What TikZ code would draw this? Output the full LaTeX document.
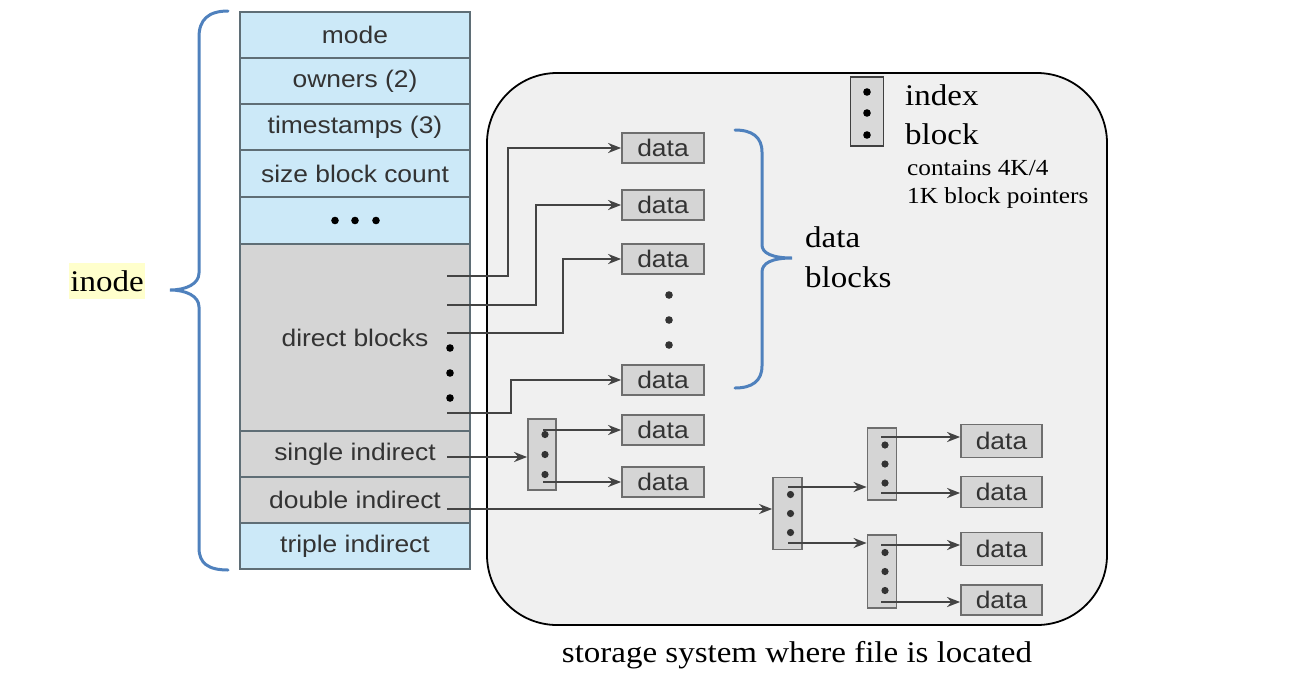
\documentclass[tikz,border=0pt]{standalone}
\usepackage{fontspec}
\setmainfont{Liberation Serif}[FakeStretch=1.1]
\newfontfamily\fsans{Liberation Sans}[FakeStretch=1.1]
\usetikzlibrary{arrows.meta}
\definecolor{rowblue}{HTML}{CCE9F8}
\definecolor{rowgray}{HTML}{D5D5D5}
\definecolor{rowline}{HTML}{5F6E76}
\definecolor{boxline}{HTML}{6E6E6E}
\definecolor{storefill}{HTML}{F0F0F0}
\definecolor{bracecol}{HTML}{4F81BD}
\definecolor{arrowcol}{HTML}{444444}
\definecolor{sanstext}{HTML}{333333}
\definecolor{hilite}{HTML}{FFFFCC}
\tikzset{
  x=1pt, y=-1pt,
  inoderow/.style={draw=rowline, line width=2pt, minimum width=230pt, inner sep=0pt,
     font=\fsans\fontsize{24}{28}\selectfont, text=sanstext},
  bluerow/.style={inoderow, fill=rowblue, minimum height=46pt},
  grayrow/.style={inoderow, fill=rowgray, minimum height=46pt},
  databox/.style={draw=boxline, fill=rowgray, line width=1.8pt, minimum width=82pt, minimum height=30pt,
     inner sep=0pt, font=\fsans\fontsize{24}{28}\selectfont, text=sanstext},
  indexbox/.style={draw=boxline, fill=rowgray, line width=1.8pt, minimum width=29pt, minimum height=72pt, inner sep=0pt},
  arr/.style={draw=arrowcol, line width=2.3pt, -{Stealth[length=13pt,width=10pt]}},
  bracestyle/.style={draw=bracecol, line width=3pt, line cap=round},
  serifbig/.style={font=\fontsize{30}{34}\selectfont, inner sep=0pt, anchor=west},
  serifsmall/.style={font=\fontsize{23}{27}\selectfont, inner sep=0pt, anchor=west},
}
\begin{document}
\begin{tikzpicture}
\useasboundingbox (0,0) rectangle (1312,689);
% storage area
\draw[fill=storefill, draw=black, line width=1.8pt, rounded corners=70pt] (487,73) rectangle (1107,625);
\node[font=\fontsize{30}{34}\selectfont, inner sep=0pt] (caption) at (797,655) {storage system where file is located};

% inode table
\node[bluerow] (mode) at (355,35) {mode};
\node[bluerow] (owners) at (355,81) {owners (2)};
\node[bluerow] (times) at (355,127) {timestamps (3)};
\node[bluerow, minimum height=47pt] (size) at (355,173.5) {size block count};
\node[bluerow, minimum height=47pt] (more) at (355,220.5) {};
\node[grayrow, minimum height=187pt] (direct) at (355,337.5) {direct blocks};
\node[grayrow] (single) at (355,454) {single indirect};
\node[grayrow] (double) at (355,500) {double indirect};
\node[bluerow] (triple) at (355,546) {triple indirect};
\foreach \xx in {335,355,376} \fill (\xx,220.5) circle (3.8pt);

% inode label and brace
\node[fill=hilite, font=\fontsize{30}{34}\selectfont, minimum width=76pt, minimum height=36pt, inner sep=0pt] (inode) at (107,281) {inode};
\draw[bracestyle] (228,11) .. controls (208,11) and (199,20) .. (199,37) -- (199,273)
   .. controls (199,284) and (186,290) .. (170,290)
   .. controls (186,290) and (199,296) .. (199,307) -- (199,548)
   .. controls (199,563) and (208,570) .. (228,570);

% data blocks (direct)
\node[databox] (da1) at (663,148) {data};
\node[databox] (da2) at (663,205) {data};
\node[databox] (da3) at (663,259) {data};
\node[databox] (da4) at (663,380) {data};
\node[databox] (da5) at (663,430) {data};
\node[databox] (da6) at (663,482) {data};
\foreach \yy in {295,320,345} \fill[black!80] (669,\yy) circle (3.8pt);

% direct pointers
\coordinate (p1) at (447,276);
\coordinate (p2) at (447,305);
\coordinate (p3) at (447,333);
\coordinate (p4) at (447,413);
\draw[arr] (p1) -- (508,276) |- (da1.west);
\draw[arr] (p2) -- (536,305) |- (da2.west);
\draw[arr] (p3) -- (563,333) |- (da3.west);
\draw[arr] (p4) -- (511,413) |- (da4.west);
\foreach \yy in {348,373,398} \fill (450,\yy) circle (3.8pt);

% data blocks brace and label
\draw[bracestyle] (735,130) .. controls (752,130) and (762,137) .. (762,152) -- (762,245)
   .. controls (762,253) and (772,258) .. (792,258)
   .. controls (772,258) and (762,263) .. (762,272) -- (762,366)
   .. controls (762,381) and (752,388) .. (735,388);
\node[serifbig] (dbl1) at (805,237) {data};
\node[serifbig] (dbl2) at (805,277) {blocks};

% single indirect
\node[indexbox, minimum width=28pt, minimum height=71pt] (ib1) at (542,454.5) {};
\foreach \dy in {-20,0,20} \fill[black!80] ([xshift=3pt,yshift=\dy pt]ib1.center) circle (3.6pt);
\coordinate (s1) at (447,457);
\draw[arr] (s1) -- (s1 -| ib1.west);
\coordinate (s1a) at (543,430);
\coordinate (s1b) at (543,482);
\draw[arr] (s1a) -- (da5.west);
\draw[arr] (s1b) -- (da6.west);

% double indirect
\node[indexbox] (ib2) at (787.5,513.5) {};
\node[indexbox] (ib3) at (882,464) {};
\node[indexbox, minimum height=73pt] (ib4) at (882,571.5) {};
\foreach \nn in {ib2,ib3,ib4}
  \foreach \dy in {-19,0,19} \fill[black!80] ([xshift=3pt,yshift=\dy pt]\nn.center) circle (3.6pt);
\coordinate (s2) at (447,509);
\draw[arr] (s2) -- (s2 -| ib2.west);
\coordinate (o1) at (788,487);
\coordinate (o2) at (788,543);
\draw[arr] (o1) -- (o1 -| ib3.west);
\draw[arr] (o2) -- (o2 -| ib4.west);

\node[databox, minimum width=81pt, minimum height=33pt] (db1) at (1001.5,441) {data};
\node[databox, minimum width=81pt, minimum height=31pt] (db2) at (1001.5,492) {data};
\node[databox, minimum width=81pt, minimum height=33pt] (db3) at (1001.5,549) {data};
\node[databox, minimum width=81pt, minimum height=30pt] (db4) at (1001.5,600) {data};
\coordinate (q1) at (881,437);
\coordinate (q2) at (881,493);
\coordinate (q3) at (881,545);
\coordinate (q4) at (881,602);
\draw[arr] (q1) -- (q1 -| db1.west);
\draw[arr] (q2) -- (q2 -| db2.west);
\draw[arr] (q3) -- (q3 -| db3.west);
\draw[arr] (q4) -- (q4 -| db4.west);

% legend
\node[draw=black!75, fill=black!15, line width=1.8pt, minimum width=33pt, minimum height=69pt, inner sep=0pt] (legend) at (867,111.5) {};
\foreach \yy in {92,113,135} \fill (867,\yy) circle (3.8pt);
\node[serifbig] (lg1) at (905,95) {index};
\node[serifbig] (lg2) at (905,134) {block};
\node[serifsmall] (lg3) at (907,168) {contains 4K/4};
\node[serifsmall] (lg4) at (907,198) {1K block pointers};
\end{tikzpicture}
\end{document}
